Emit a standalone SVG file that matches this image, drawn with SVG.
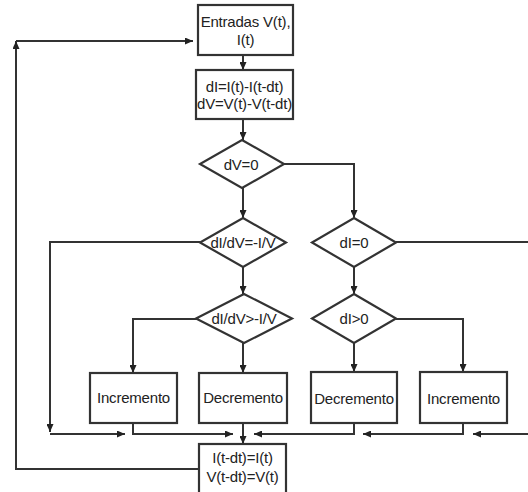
<svg xmlns="http://www.w3.org/2000/svg" width="528" height="492" viewBox="0 0 528 492">
<style>
.n{fill:#fff;stroke:#333;stroke-width:2.2}
.t{font-family:"Liberation Sans",Arial,sans-serif;font-size:15px;fill:#222;text-anchor:middle;letter-spacing:-0.2px}
.c{fill:none;stroke:#333;stroke-width:2}
.a{marker-end:url(#ah)}
</style>
<defs>
<marker id="ah" markerUnits="userSpaceOnUse" markerWidth="8" markerHeight="7" refX="8" refY="3.5" orient="auto">
<path d="M0,0 L8,3.5 L0,7 z" fill="#222"/>
</marker>
</defs>
<rect width="528" height="492" fill="#fff"/>
<g id="connectors">
<path class="c a" d="M243,55 V70"/>
<path class="c a" d="M243,119 V140"/>
<path class="c a" d="M243,188 V218"/>
<path class="c a" d="M284,164 H354 V218"/>
<path class="c a" d="M200,242 H50 V432"/>
<path class="c a" d="M50,434 H125"/>
<path class="c" d="M396,242 H528"/>
<path class="c a" d="M243,267 V294"/>
<path class="c a" d="M354,267 V294"/>
<path class="c a" d="M197,319 H133 V373"/>
<path class="c a" d="M243,343 V373"/>
<path class="c a" d="M354,343 V372"/>
<path class="c a" d="M396,319 H463 V372"/>
<path class="c a" d="M133,423 V434 H233"/>
<path class="c a" d="M243,423 V444"/>
<path class="c a" d="M354,423 V434 H254"/>
<path class="c a" d="M463,423 V434 H363"/>
<path class="c a" d="M528,434 H473"/>
<path class="c a" d="M199,469 H16 V41"/>
<path class="c a" d="M16,41 H193"/>
</g>
<g id="entradas">
<rect class="n" x="198" y="5" width="95" height="50"/>
<text class="t" x="245.5" y="27">Entradas V(t),</text>
<text class="t" x="245.5" y="45">I(t)</text>
</g>
<g id="calculo">
<rect class="n" x="196" y="70" width="97" height="49"/>
<text class="t" x="244.5" y="92">dI=I(t)-I(t-dt)</text>
<text class="t" x="244.5" y="109">dV=V(t)-V(t-dt)</text>
</g>
<g id="dv0">
<polygon class="n" points="242,140 284,164 242,188 200,164"/>
<text class="t" x="241" y="170">dV=0</text>
</g>
<g id="didv_eq">
<polygon class="n" points="243,218 286,242.5 243,267 200,242.5"/>
<text class="t" x="243" y="248">dI/dV=-I/V</text>
</g>
<g id="di0">
<polygon class="n" points="354,218 396,242.5 354,267 312,242.5"/>
<text class="t" x="354" y="248">dI=0</text>
</g>
<g id="didv_gt">
<polygon class="n" points="244,294 292,318.5 244,343 196,318.5"/>
<text class="t" x="244" y="324">dI/dV&gt;-I/V</text>
</g>
<g id="digt0">
<polygon class="n" points="354,294 396,318.5 354,343 312,318.5"/>
<text class="t" x="354" y="324">dI&gt;0</text>
</g>
<g id="inc1">
<rect class="n" x="90" y="373" width="87" height="50"/>
<text class="t" x="133.5" y="403">Incremento</text>
</g>
<g id="dec1">
<rect class="n" x="199" y="373" width="88" height="50"/>
<text class="t" x="243" y="403">Decremento</text>
</g>
<g id="dec2">
<rect class="n" x="311" y="372" width="86" height="51"/>
<text class="t" x="354" y="404">Decremento</text>
</g>
<g id="inc2">
<rect class="n" x="420" y="372" width="87" height="51"/>
<text class="t" x="463.5" y="404">Incremento</text>
</g>
<g id="actualiza">
<rect class="n" x="199" y="444" width="87" height="54"/>
<text class="t" x="242.5" y="463">I(t-dt)=I(t)</text>
<text class="t" x="242.5" y="482">V(t-dt)=V(t)</text>
</g>
</svg>
